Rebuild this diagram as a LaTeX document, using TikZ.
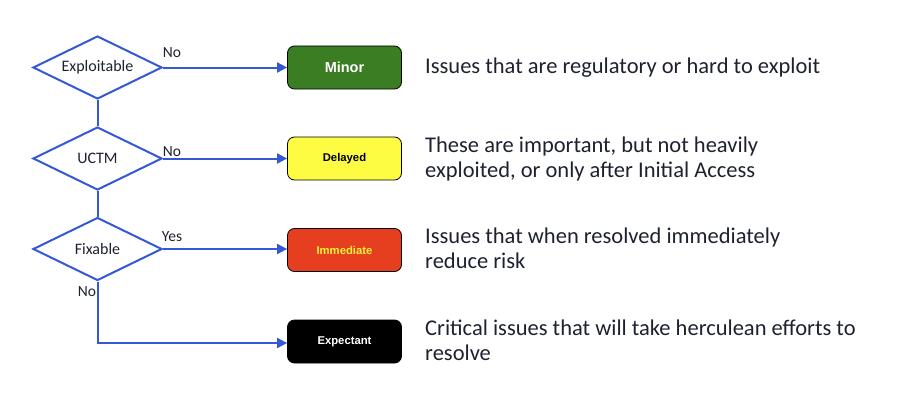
\documentclass[tikz,border=0pt]{standalone}
\usepackage{fontspec}
\setmainfont{Carlito}
\newfontfamily\boxfont{Liberation Sans}
\usetikzlibrary{shapes.geometric,arrows.meta}
\definecolor{flowblue}{HTML}{3558D6}
\definecolor{minorgreen}{HTML}{3A7D22}
\definecolor{delyellow}{HTML}{FDFB42}
\definecolor{immred}{HTML}{E53F1F}
\definecolor{immtext}{HTML}{F9F33A}
\definecolor{txt}{HTML}{1E2230}
\tikzset{
  decision/.style={diamond, aspect=2, draw=flowblue, line width=2pt, fill=white, minimum width=129pt, minimum height=63pt, inner sep=0pt, font=\fontsize{16}{18}\selectfont, text=txt},
  outcome/.style={rectangle, rounded corners=7pt, draw=black, line width=0.8pt, minimum width=114pt, minimum height=43pt, inner sep=0pt, font=\boxfont\bfseries\fontsize{11.3}{13}\selectfont},
  flow/.style={draw=flowblue, line width=2pt},
  flowarrow/.style={flow, -{Triangle[length=10pt,width=10pt]}},
  edgelabel/.style={font=\fontsize{15.5}{17}\selectfont, text=txt, inner sep=0pt},
  desc/.style={anchor=base west, inner sep=0pt, font=\fontsize{22.5}{25}\selectfont, text=txt, align=left}
}
\begin{document}
\begin{tikzpicture}[x=1pt,y=-1pt]
\useasboundingbox (0,0) rectangle (917,412);
\node[decision] (expl) at (97.5,67.5) {Exploitable};
\node[decision] (uctm) at (97.5,158.5) {UCTM};
\node[decision] (fix) at (97.5,249) {Fixable};
\node[outcome, fill=minorgreen, text=white, font=\boxfont\bfseries\fontsize{14.5}{16}\selectfont] (minor) at (344.5,67.5) {Minor};
\node[outcome, fill=delyellow, text=black] (delayed) at (344.5,158.5) {Delayed};
\node[outcome, fill=immred, text=immtext] (immediate) at (344.5,250) {Immediate};
\node[outcome, fill=black, text=white] (expectant) at (344.5,341.5) {Expectant};
\coordinate (corner) at (97.5,343);
\draw[flow] (expl.south) -- (uctm.north);
\draw[flow] (uctm.south) -- (fix.north);
\draw[flowarrow] (expl.east) -- (minor.west |- expl.east);
\draw[flowarrow] (uctm.east) -- (delayed.west |- uctm.east);
\draw[flowarrow] (fix.east) -- (immediate.west |- fix.east);
\draw[flowarrow] (fix.south) -- (corner) -- (expectant.west |- corner);
\node[edgelabel] (l1) at (172,53) {No};
\node[edgelabel] (l2) at (172,152) {No};
\node[edgelabel] (l3) at (172,236.5) {Yes};
\node[edgelabel] (l4) at (87,292) {No};
\node[desc] (d1) at (425,73) {Issues that are regulatory or hard to exploit};
\node[desc] (d2) at (425,177) {These are important, but not heavily\\exploited, or only after Initial Access};
\node[desc] (d3) at (425,268) {Issues that when resolved immediately\\reduce risk};
\node[desc] (d4) at (425,360) {Critical issues that will take herculean efforts to\\resolve};
\end{tikzpicture}
\end{document}
